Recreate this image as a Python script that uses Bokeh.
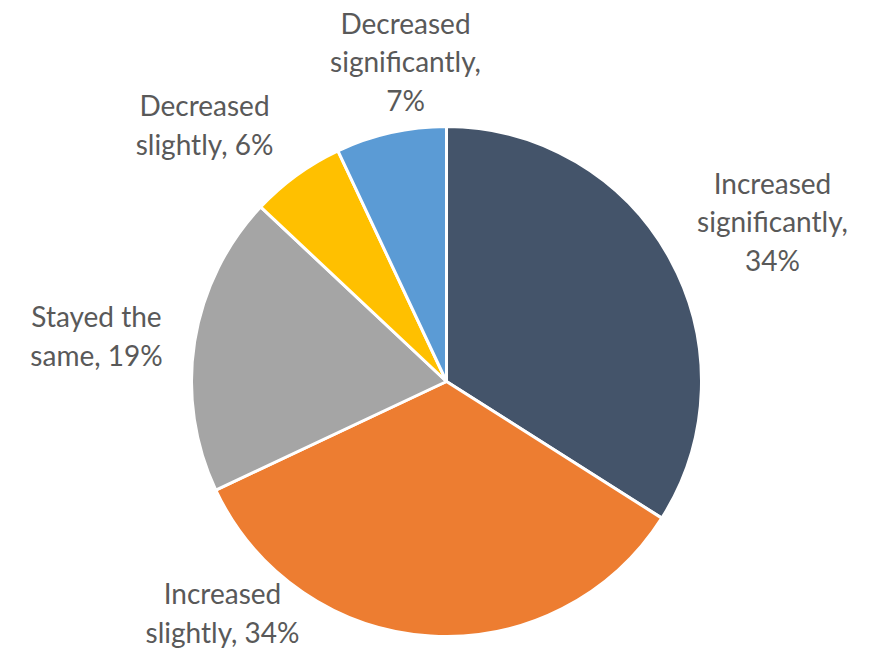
import math
from bokeh.plotting import figure
from bokeh.models import ColumnDataSource, Range1d
from bokeh.core.properties import value
from bokeh.embed import file_html
from bokeh.resources import INLINE

categories = ["Increased significantly", "Increased slightly", "Stayed the same",
              "Decreased slightly", "Decreased significantly"]
shares = [34, 34, 19, 6, 7]
label_texts = ["Increased\nsignificantly,\n34%", "Increased\nslightly, 34%",
               "Stayed the\nsame, 19%", "Decreased\nslightly, 6%",
               "Decreased\nsignificantly,\n7%"]
colors = ["#44546A", "#ED7D31", "#A5A5A5", "#FFC000", "#5B9BD5"]

W, H = 876, 649
cx, cy = 446, H - 381
R = 255
# label centres in page pixels (layout only)
label_px = [(772, 221), (222, 612), (96, 335), (204, 124), (405, 61)]

total = sum(shares)
starts, ends = [], []
cum = 0.0
for s in shares:
    starts.append(math.pi / 2 - 2 * math.pi * cum / total)
    cum += s
    ends.append(math.pi / 2 - 2 * math.pi * cum / total)

src = ColumnDataSource(dict(cat=categories, start=starts, end=ends, color=colors))

p = figure(width=W, height=H, output_backend="svg", toolbar_location=None,
           x_range=Range1d(0, W), y_range=Range1d(0, H), min_border=0)
p.axis.visible = False
p.grid.visible = False
p.outline_line_color = None
p.background_fill_color = "white"
p.border_fill_color = "white"

p.wedge(x=cx, y=cy, radius=R, start_angle="start", end_angle="end", direction="clock",
        fill_color="color", line_color="white", line_width=3, source=src)

lsrc = ColumnDataSource(dict(x=[q[0] for q in label_px], y=[H - q[1] for q in label_px],
                             text=label_texts))
p.text(x="x", y="y", text="text", source=lsrc, text_align="center",
       text_baseline="middle", text_font=value("Lato"), text_font_size="28px",
       text_color="#595959", text_line_height=1.12)

open("out.html", "w").write(file_html(p, INLINE))
